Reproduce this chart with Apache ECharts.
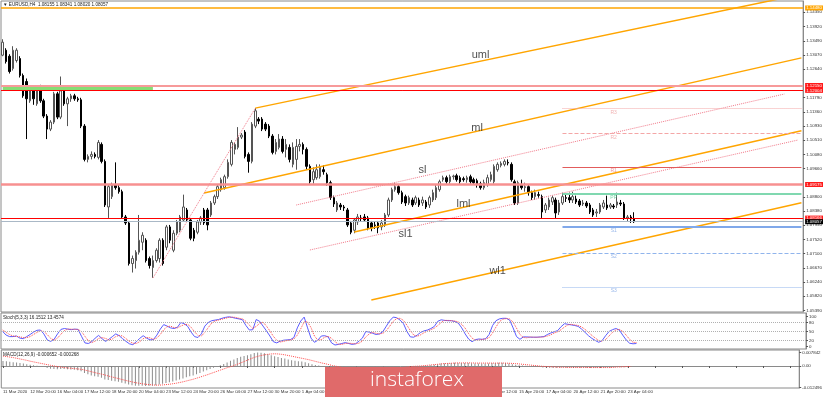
<!DOCTYPE html>
<html>
<head>
<meta charset="utf-8">
<title>EURUSD H4</title>
<script src="https://cdn.jsdelivr.net/npm/echarts@6/dist/echarts.min.js"></script>
<style>html,body{margin:0;padding:0;background:#fff;}</style>
</head>
<body>
<div id="main" style="width:825px;height:397px;"></div>
<script>
// H4 candles, 11 Mar 12:00 .. 23 Apr 08:00 : [open, close, low, high]
var candles = [
[1.1306,1.1345,1.1303,1.1354],[1.1321,1.1287,1.1281,1.1327],[1.1303,1.1257,1.1251,1.1309],[1.1266,1.1321,1.1260,1.1333],
[1.1290,1.1321,1.1284,1.1327],[1.1296,1.1245,1.1239,1.1303],[1.1245,1.1184,1.1178,1.1251],[1.1227,1.1175,1.1054,1.1236],
[1.1169,1.1205,1.1163,1.1211],[1.1205,1.1175,1.1157,1.1211],[1.1160,1.1205,1.1154,1.1214],[1.1211,1.1169,1.1163,1.1217],
[1.1169,1.1123,1.1117,1.1175],[1.1123,1.1084,1.1054,1.1129],[1.1084,1.1105,1.1078,1.1111],[1.1105,1.1190,1.1099,1.1196],
[1.1190,1.1120,1.1114,1.1196],[1.1120,1.1199,1.1114,1.1242],[1.1199,1.1160,1.1154,1.1205],[1.1160,1.1175,1.1093,1.1181],
[1.1175,1.1184,1.1166,1.1190],[1.1184,1.1175,1.1169,1.1190],[1.1175,1.1172,1.1166,1.1181],[1.1172,1.1093,1.1087,1.1178],
[1.1093,1.0993,1.0987,1.1099],[1.0993,1.1002,1.0984,1.1008],[1.1002,1.1008,1.0993,1.1017],[1.1008,1.1002,1.0996,1.1014],
[1.0999,1.1044,1.0993,1.1051],[1.1038,1.0987,1.0981,1.1044],[1.0987,1.0856,1.0850,1.0993],[1.0850,1.0911,1.0817,1.0917],
[1.0881,1.0917,1.0874,1.0923],[1.0917,1.0908,1.0902,1.0984],[1.0908,1.0896,1.0890,1.0917],[1.0896,1.0820,1.0814,1.0902],
[1.0820,1.0802,1.0796,1.0826],[1.0802,1.0680,1.0674,1.0808],[1.0680,1.0695,1.0653,1.0704],[1.0689,1.0714,1.0665,1.0720],
[1.0714,1.0750,1.0707,1.0826],[1.0744,1.0765,1.0720,1.0774],[1.0750,1.0689,1.0683,1.0756],[1.0695,1.0674,1.0665,1.0701],
[1.0668,1.0689,1.0637,1.0704],[1.0689,1.0720,1.0683,1.0726],[1.0695,1.0750,1.0683,1.0756],[1.0750,1.0680,1.0674,1.0756],
[1.0729,1.0790,1.0720,1.0796],[1.0790,1.0750,1.0741,1.0796],[1.0720,1.0771,1.0714,1.0780],[1.0771,1.0805,1.0765,1.0811],
[1.0780,1.0820,1.0774,1.0826],[1.0811,1.0850,1.0805,1.0887],[1.0841,1.0811,1.0805,1.0847],[1.0811,1.0756,1.0750,1.0817],
[1.0780,1.0756,1.0747,1.0787],[1.0774,1.0805,1.0768,1.0811],[1.0805,1.0817,1.0796,1.0823],[1.0841,1.0802,1.0796,1.0847],
[1.0841,1.0796,1.0780,1.0847],[1.0826,1.0862,1.0820,1.0868],[1.0862,1.0881,1.0856,1.0887],[1.0881,1.0911,1.0874,1.0917],
[1.0902,1.0932,1.0896,1.0938],[1.0908,1.0941,1.0902,1.0947],[1.0941,1.0984,1.0935,1.0993],[1.0978,1.1044,1.0972,1.1051],
[1.1023,1.1038,1.1008,1.1044],[1.1029,1.1060,1.1023,1.1090],[1.1060,1.1066,1.1054,1.1072],[1.1075,1.1002,1.0996,1.1081],
[1.1008,1.0987,1.0953,1.1014],[1.0987,1.1099,1.0981,1.1105],[1.1093,1.1139,1.1087,1.1147],[1.1114,1.1108,1.1099,1.1120],
[1.1114,1.1084,1.1078,1.1120],[1.1099,1.1084,1.1078,1.1105],[1.1093,1.1063,1.1057,1.1099],[1.1063,1.1014,1.1008,1.1069],
[1.1017,1.1044,1.1008,1.1054],[1.1029,1.1054,1.1023,1.1069],[1.1054,1.1017,1.1011,1.1063],[1.1023,1.1038,1.0999,1.1054],
[1.1029,1.0993,1.0984,1.1038],[1.0978,1.1029,1.0969,1.1044],[1.0993,1.1032,1.0962,1.1054],[1.1032,1.1038,1.1017,1.1054],
[1.1038,1.1023,1.1008,1.1044],[1.1023,1.0972,1.0962,1.1029],[1.0972,1.0926,1.0920,1.0978],[1.0932,1.0956,1.0920,1.0969],
[1.0938,1.0962,1.0932,1.0978],[1.0941,1.0969,1.0935,1.0978],[1.0962,1.0956,1.0947,1.0975],[1.0947,1.0923,1.0914,1.0953],
[1.0923,1.0878,1.0871,1.0929],[1.0878,1.0859,1.0850,1.0884],[1.0841,1.0862,1.0835,1.0868],[1.0856,1.0850,1.0841,1.0862],
[1.0850,1.0847,1.0838,1.0856],[1.0841,1.0796,1.0790,1.0847],[1.0802,1.0774,1.0768,1.0808],[1.0780,1.0811,1.0771,1.0817],
[1.0805,1.0820,1.0796,1.0829],[1.0817,1.0815,1.0805,1.0826],[1.0820,1.0811,1.0805,1.0829],[1.0817,1.0787,1.0780,1.0823],
[1.0802,1.0787,1.0777,1.0808],[1.0796,1.0794,1.0784,1.0805],[1.0802,1.0787,1.0771,1.0808],[1.0790,1.0802,1.0780,1.0811],
[1.0796,1.0826,1.0790,1.0832],[1.0826,1.0871,1.0820,1.0878],[1.0871,1.0902,1.0865,1.0908],[1.0902,1.0911,1.0896,1.0923],
[1.0911,1.0893,1.0887,1.0917],[1.0893,1.0865,1.0859,1.0899],[1.0881,1.0862,1.0853,1.0887],[1.0862,1.0878,1.0856,1.0884],
[1.0871,1.0856,1.0850,1.0878],[1.0862,1.0878,1.0856,1.0884],[1.0871,1.0856,1.0850,1.0878],[1.0862,1.0871,1.0853,1.0881],
[1.0865,1.0850,1.0844,1.0871],[1.0856,1.0878,1.0847,1.0884],[1.0871,1.0893,1.0865,1.0902],[1.0878,1.0908,1.0871,1.0917],
[1.0902,1.0926,1.0896,1.0932],[1.0932,1.0938,1.0926,1.0944],[1.0938,1.0926,1.0920,1.0944],[1.0926,1.0941,1.0920,1.0947],
[1.0941,1.0943,1.0932,1.0947],[1.0944,1.0932,1.0926,1.0950],[1.0938,1.0926,1.0920,1.0944],[1.0935,1.0932,1.0926,1.0941],
[1.0932,1.0938,1.0923,1.0944],[1.0941,1.0926,1.0920,1.0947],[1.0932,1.0923,1.0917,1.0938],[1.0929,1.0917,1.0908,1.0935],
[1.0920,1.0908,1.0902,1.0926],[1.0908,1.0923,1.0902,1.0932],[1.0917,1.0938,1.0911,1.0947],[1.0932,1.0947,1.0926,1.0956],
[1.0926,1.0972,1.0920,1.0978],[1.0962,1.0978,1.0956,1.0984],[1.0975,1.0981,1.0969,1.0987],[1.0978,1.0987,1.0972,1.0993],
[1.0984,1.0982,1.0975,1.0993],[1.0978,1.0932,1.0926,1.0984],[1.0926,1.0862,1.0856,1.0932],[1.0862,1.0923,1.0856,1.0929],
[1.0917,1.0908,1.0902,1.0932],[1.0908,1.0911,1.0896,1.0923],[1.0911,1.0893,1.0884,1.0917],[1.0893,1.0878,1.0871,1.0899],
[1.0881,1.0893,1.0871,1.0902],[1.0887,1.0885,1.0878,1.0896],[1.0881,1.0835,1.0817,1.0887],[1.0841,1.0856,1.0832,1.0862],
[1.0850,1.0871,1.0841,1.0878],[1.0865,1.0878,1.0856,1.0884],[1.0871,1.0832,1.0817,1.0878],[1.0835,1.0862,1.0826,1.0871],
[1.0862,1.0881,1.0856,1.0893],[1.0878,1.0876,1.0865,1.0890],[1.0878,1.0871,1.0862,1.0893],[1.0871,1.0881,1.0862,1.0896],
[1.0874,1.0865,1.0859,1.0884],[1.0868,1.0856,1.0850,1.0874],[1.0859,1.0862,1.0853,1.0871],[1.0862,1.0853,1.0847,1.0868],
[1.0856,1.0835,1.0829,1.0862],[1.0841,1.0826,1.0820,1.0847],[1.0832,1.0835,1.0820,1.0844],[1.0835,1.0856,1.0829,1.0862],
[1.0850,1.0862,1.0844,1.0871],[1.0856,1.0847,1.0841,1.0884],[1.0850,1.0856,1.0844,1.0862],[1.0853,1.0850,1.0844,1.0859],
[1.0856,1.0865,1.0847,1.0893],[1.0862,1.0859,1.0853,1.0871],[1.0859,1.0817,1.0811,1.0865],[1.0817,1.0820,1.0805,1.0826],
[1.0820,1.0814,1.0802,1.0826],[1.08155,1.08057,1.08020,1.08341]
];

// Stochastic (5,3,3): main and signal
var stochK = [50,38,33,33,35,28,26,33,40,48,54,55,42,22,17,24,42,57,60,58,56,58,57,34,12,10,16,28,37,26,
17,24,33,42,36,26,17,9,6,16,27,36,28,22,23,38,58,73,68,62,60,64,80,76,67,48,33,30,42,68,
80,86,88,90,94,97,99,97,94,92,89,70,55,56,90,84,68,52,35,16,12,18,21,22,23,30,62,85,98,62,
28,14,21,35,36,32,12,5,7,10,13,10,7,9,18,28,50,48,44,40,42,50,68,86,98,96,88,76,50,32,
31,38,47,52,55,60,67,84,89,87,86,86,83,78,62,42,25,16,23,25,24,26,40,70,86,92,94,94,88,62,
33,24,32,32,31,31,31,32,33,40,45,49,53,66,76,74,72,70,67,58,47,36,27,20,14,20,36,50,56,60,
55,38,22,11,9,10];
var stochD = [55,47,40,35,34,32,30,29,33,40,47,52,50,40,27,21,28,41,53,58,58,57,57,50,34,19,13,18,27,30,
27,22,25,33,37,35,26,17,11,10,16,26,30,29,24,28,40,56,66,68,63,62,68,73,74,64,49,37,35,47,
63,78,85,88,91,94,97,98,97,94,92,84,71,60,67,77,81,68,52,34,21,15,17,20,22,25,38,59,82,82,
63,35,21,23,31,34,27,16,8,7,10,11,10,9,11,18,32,42,47,44,42,44,53,68,84,93,94,87,71,53,
38,34,39,46,51,56,61,70,80,87,87,86,85,82,74,61,43,28,21,21,24,25,30,45,65,83,91,93,92,81,
61,40,30,29,32,31,31,31,32,35,39,45,49,56,65,72,74,72,70,65,57,47,37,28,20,18,23,35,47,55,
57,51,38,24,14,13];

// MACD (12,26,9): histogram and signal
var macdMain = [0.0029,0.0027,0.0025,0.0022,0.0020,0.0017,0.0014,0.0010,0.0007,0.0004,0.0001,-0.0002,-0.0006,-0.0012,-0.0016,
-0.0017,-0.0019,-0.0018,-0.0018,-0.0019,-0.0020,-0.0022,-0.0024,-0.0030,-0.0040,-0.0048,-0.0055,-0.0060,-0.0062,-0.0068,
-0.0078,-0.0082,-0.0085,-0.0088,-0.0092,-0.0098,-0.0102,-0.0108,-0.0112,-0.0114,-0.0115,-0.0114,-0.0116,-0.0116,-0.0115,
-0.0112,-0.0108,-0.0103,-0.0099,-0.0095,-0.0090,-0.0084,-0.0078,-0.0072,-0.0066,-0.0060,-0.0055,-0.0048,-0.0040,-0.0032,
-0.0025,-0.0018,-0.0010,-0.0003,0.0005,0.0012,0.0020,0.0030,0.0038,0.0046,0.0054,0.0058,0.0062,0.0068,0.0076,
0.0078,0.0077,0.0074,0.0070,0.0063,0.0057,0.0052,0.0047,0.0043,0.0038,0.0033,0.0030,0.0028,0.0026,0.0022,
0.0016,0.0010,0.0006,0.0003,0.0000,-0.0004,-0.0010,-0.0015,-0.0019,-0.0022,-0.0025,-0.0030,-0.0034,-0.0036,-0.0036,
-0.0035,-0.0032,-0.0030,-0.0028,-0.0027,-0.0026,-0.0023,-0.0019,-0.0014,-0.0009,-0.0005,-0.0003,-0.0001,-0.0001,-0.0002,
-0.0002,-0.0002,-0.0001,0.0000,0.0000,0.0002,0.0004,0.0008,0.0011,0.0014,0.0015,0.0017,0.0018,0.0019,0.0018,
0.0018,0.0017,0.0017,0.0016,0.0015,0.0014,0.0014,0.0014,0.0015,0.0017,0.0018,0.0019,0.0019,0.0018,0.0015,
0.0010,0.0007,0.0005,0.0003,0.0001,-0.0001,-0.0003,-0.0004,-0.0006,-0.0008,-0.0009,-0.0010,-0.0011,-0.0010,-0.0010,
-0.0009,-0.0009,-0.0009,-0.0009,-0.0009,-0.0010,-0.0010,-0.0011,-0.0012,-0.0012,-0.0011,-0.0010,-0.0009,-0.0009,-0.0008,
-0.0007,-0.0006,-0.0007,-0.0007,-0.0007,-0.00065];
var macdSignal = [0.0058,0.0055,0.0052,0.0049,0.0045,0.0041,0.0037,0.0033,0.0028,0.0024,0.0020,0.0016,0.0012,0.0008,0.0004,
0.0000,-0.0003,-0.0006,-0.0009,-0.0011,-0.0013,-0.0015,-0.0017,-0.0019,-0.0023,-0.0028,-0.0033,-0.0038,-0.0043,-0.0047,
-0.0052,-0.0058,-0.0063,-0.0068,-0.0073,-0.0078,-0.0083,-0.0088,-0.0092,-0.0097,-0.0100,-0.0103,-0.0106,-0.0108,-0.0110,
-0.0111,-0.0111,-0.0110,-0.0108,-0.0106,-0.0103,-0.0100,-0.0096,-0.0092,-0.0087,-0.0082,-0.0077,-0.0071,-0.0065,-0.0058,
-0.0052,-0.0045,-0.0038,-0.0031,-0.0024,-0.0017,-0.0010,-0.0004,0.0002,0.0010,0.0018,0.0026,0.0034,0.0042,0.0050,
0.0056,0.0061,0.0065,0.0068,0.0070,0.0071,0.0070,0.0068,0.0065,0.0061,0.0057,0.0053,0.0049,0.0045,0.0041,
0.0037,0.0032,0.0027,0.0022,0.0017,0.0013,0.0008,0.0003,-0.0001,-0.0005,-0.0009,-0.0013,-0.0017,-0.0020,-0.0023,
-0.0025,-0.0027,-0.0028,-0.0028,-0.0028,-0.0027,-0.0026,-0.0024,-0.0022,-0.0019,-0.0016,-0.0013,-0.0010,-0.0008,-0.0006,
-0.0004,-0.0002,-0.0001,0.0000,0.0002,0.0004,0.0006,0.0008,0.0010,0.0012,0.0014,0.0015,0.0016,0.0017,0.0018,
0.0018,0.0018,0.0018,0.0018,0.0017,0.0017,0.0017,0.0017,0.0017,0.0017,0.0017,0.0017,0.0017,0.0017,0.0016,
0.0015,0.0014,0.0012,0.0010,0.0008,0.0006,0.0004,0.0002,0.0000,-0.0002,-0.0003,-0.0004,-0.0005,-0.0006,-0.0007,
-0.0007,-0.0008,-0.0008,-0.0008,-0.0008,-0.0008,-0.0008,-0.0008,-0.0009,-0.0009,-0.0009,-0.0009,-0.0009,-0.0009,-0.0009,
-0.0007,-0.0006,-0.0005,-0.0004,-0.0003,-0.00027];

// time axis labels, one every 8 bars
var timeLabels = ['11 Mar 2020','12 Mar 20:00','16 Mar 04:00','17 Mar 12:00','18 Mar 20:00','20 Mar 04:00',
  '23 Mar 12:00','24 Mar 20:00','26 Mar 04:00','27 Mar 12:00','30 Mar 20:00','1 Apr 04:00','2 Apr 12:00',
  '3 Apr 20:00','7 Apr 04:00','8 Apr 12:00','9 Apr 20:00','13 Apr 04:00','14 Apr 12:00','15 Apr 20:00',
  '17 Apr 04:00','20 Apr 12:00','21 Apr 20:00','23 Apr 04:00'];

// right scale tick labels
var priceTicks = [1.14350,1.13920,1.13490,1.13070,1.12640,1.11790,1.11360,1.10930,1.10510,1.10080,1.09660,
  1.08800,1.08380,1.07950,1.07520,1.07100,1.06670,1.06240,1.05820,1.05390];
var stochTicks = [0,20,50,80,100];
var macdTicks = [-0.012496,0,0.007842];

// horizontal levels with price boxes
var levelValues = [1.14480,1.12150,1.12004,1.09175,1.08166,1.08057];
var greenZone = [0,44,1.12067];

// daily pivots, drawn from bar 164
var pivotNames = ['R3','R2','R1','PP','S1','S2','S3'];
var pivotValues = [1.1147,1.1071,1.0970,1.0889,1.0790,1.0712,1.0610];
var pivotStart = 164;

// pitchfork lines: [fromBar, fromPrice, toBar, toPrice]
var forkNames = ['uml','ml','lml','wl1'];
var forkLines = [[74,1.1147,234,1.14891],[59,1.0892,234,1.1298],[103,1.07748,234,1.1079],[108,1.05704,234,1.08627]];
var sideNames = ['sl','sl1','handle'];
var sideLines = [[86,1.08559,229,1.11894],[90,1.07207,233,1.10512],[44,1.06365,74,1.1147]];
// text tags of the fork lines: [bar, price]
var forkTags = [[140,1.13066],[139,1.10873],[123,1.09611],[135,1.08589],[118,1.07688],[145,1.06576]];
var forkTagNames = ['uml','ml','sl','lml','sl1','wl1'];

var N = 235;
var cats = [];
for (var i = 0; i < N; i++) cats.push('b' + i);

var FONT = 'Liberation Sans';
var small = {fontSize: 4.4, color: '#333', fontFamily: FONT};

var chart = echarts.init(document.getElementById('main'));

var boxColors = ['#ffa500','#ff1a1a','#ff1a1a','#ff1a1a','#ff1a1a','#000000'];
var lineStyles = [
  {color:'#ffa500', width:1.5},
  {color:'#f79a9a', width:2},
  {color:'#ff0000', width:1},
  {color:'#f79090', width:2.5},
  {color:'#ff0000', width:1.2},
  {color:'#aab8c6', width:1}
];
var levelMarks = levelValues.map(function (v, k) {
  return {
    yAxis: v,
    lineStyle: Object.assign({type:'solid'}, lineStyles[k]),
    label: {show:true, position:'end', distance:2, formatter: v.toFixed(5),
      backgroundColor: boxColors[k], color:'#fff', fontSize:4.4, fontFamily:FONT, padding:[1,1,0,1]}
  };
});
levelMarks.push([
  {coord:[greenZone[0], greenZone[2]], lineStyle:{color:'#86dc74', width:3, type:'solid'}, label:{show:false}},
  {coord:[greenZone[1], greenZone[2]]}
]);
var pivotStyles = [
  {color:'#f4a6a6', type:'dotted', width:1},
  {color:'#f4a6a6', type:'dashed', width:1},
  {color:'#e25c5c', type:'solid', width:1},
  {color:'#80d8b0', type:'solid', width:2},
  {color:'#80a8ea', type:'solid', width:2},
  {color:'#90b4ec', type:'dashed', width:1},
  {color:'#90b4ec', type:'dotted', width:1}
];
var pivotTextColors = ['#eea0a0','#eea0a0','#e88080','#50c890','#7fa6e6','#7fa6e6','#7fa6e6'];
pivotValues.forEach(function (v, k) {
  levelMarks.push([
    {coord:[pivotStart, v], lineStyle:pivotStyles[k], label:{show:false}},
    {coord:[N - 1, v]}
  ]);
});

var series = [{
  type:'candlestick', xAxisIndex:0, yAxisIndex:0, data:candles, barWidth:2,
  itemStyle:{color:'#ffffff', color0:'#000000', borderColor:'#555555', borderColor0:'#000000', borderWidth:1},
  markLine:{silent:true, symbol:['none','none'], precision:6, animation:false, data:levelMarks},
  z:3
}];

forkLines.forEach(function (f, k) {
  series.push({type:'line', name:forkNames[k], xAxisIndex:0, yAxisIndex:0, symbol:'none', clip:true,
    lineStyle:{color:'#ffa500', width:1.5}, data:[[f[0], f[1]], [f[2], f[3]]], z:4});
});
sideLines.forEach(function (f, k) {
  series.push({type:'line', name:sideNames[k], xAxisIndex:0, yAxisIndex:0, symbol:'none', clip:true,
    lineStyle:{color:'#f27a8a', width:1, type:'dotted'}, data:[[f[0], f[1]], [f[2], f[3]]], z:4});
});
series.push({type:'scatter', xAxisIndex:0, yAxisIndex:0, symbolSize:0, silent:true,
  data: forkTags.map(function (t, k) { return {name:forkTagNames[k], value:t}; }),
  label:{show:true, position:'inside', formatter:'{b}', fontSize:11, color:'#222', fontFamily:FONT}, z:5});
series.push({type:'scatter', xAxisIndex:0, yAxisIndex:0, symbolSize:0, silent:true,
  data: pivotNames.map(function (n, k) {
    return {name:n, value:[179, pivotValues[k]], label:{color:pivotTextColors[k]}};
  }),
  label:{show:true, position:'inside', offset:[0,4], formatter:'{b}', fontSize:5, fontFamily:FONT}, z:5});

// stochastic
series.push({type:'line', xAxisIndex:1, yAxisIndex:1, data:stochK, symbol:'none',
  lineStyle:{color:'#5b5bff', width:1},
  markLine:{silent:true, symbol:['none','none'], label:{show:false},
    lineStyle:{color:'#b0b0b0', type:'dotted', width:1},
    data:[{yAxis:20},{yAxis:50},{yAxis:80}]}});
series.push({type:'line', xAxisIndex:1, yAxisIndex:1, data:stochD, symbol:'none',
  lineStyle:{color:'#ff4a4a', width:1, type:'dotted'}});

// MACD
series.push({type:'bar', xAxisIndex:2, yAxisIndex:2, data:macdMain, barWidth:1,
  itemStyle:{color:'#8c8c8c'}});
series.push({type:'line', xAxisIndex:2, yAxisIndex:2, data:macdSignal, symbol:'none',
  lineStyle:{color:'#ff4a4a', width:1, type:'dotted'}});

var gridBase = {left:1, right:19, show:true, borderColor:'#8a8a8a', borderWidth:1, backgroundColor:'#fff'};

var option = {
  animation:false,
  backgroundColor:'#ffffff',
  grid:[
    Object.assign({top:1, height:311}, gridBase),
    Object.assign({top:313, height:36}, gridBase),
    Object.assign({top:350, height:38}, gridBase)
  ],
  xAxis:[
    {type:'category', gridIndex:0, data:cats, show:false},
    {type:'category', gridIndex:1, data:cats, show:false},
    {type:'category', gridIndex:2, data:cats,
      axisLine:{show:true, lineStyle:{color:'#8a8a8a'}},
      axisTick:{show:true, interval:7, length:2, alignWithLabel:true, lineStyle:{color:'#555'}},
      axisLabel:Object.assign({interval:7, align:'left', margin:2, showMinLabel:true, hideOverlap:false,
        formatter:function (v, idx) { return timeLabels[idx / 8] || ''; }}, small)}
  ],
  yAxis:[
    {type:'value', gridIndex:0, position:'right', min:1.05344, max:1.14689,
      splitLine:{show:false},
      axisLine:{show:true, lineStyle:{color:'#8a8a8a'}},
      axisTick:{show:true, length:2, customValues:priceTicks, lineStyle:{color:'#555'}},
      axisLabel:Object.assign({customValues:priceTicks, margin:3,
        formatter:function (v) { return v.toFixed(5); }}, small)},
    {type:'value', gridIndex:1, position:'right', min:-8.33, max:111.67,
      splitLine:{show:false},
      axisLine:{show:true, lineStyle:{color:'#8a8a8a'}},
      axisTick:{show:true, length:2, customValues:stochTicks, lineStyle:{color:'#555'}},
      axisLabel:Object.assign({customValues:stochTicks, margin:3,
        formatter:function (v) { return String(Math.round(v)); }}, small)},
    {type:'value', gridIndex:2, position:'right', min:-0.01278, max:0.0093,
      splitLine:{show:false},
      axisLine:{show:true, lineStyle:{color:'#8a8a8a'}},
      axisTick:{show:true, length:2, customValues:macdTicks, lineStyle:{color:'#555'}},
      axisLabel:Object.assign({customValues:macdTicks, margin:3,
        formatter:function (v) { return v === 0 ? '0.00' : v.toFixed(6); }}, small)}
  ],
  graphic:[
    {type:'text', left:3, top:2, z:10, style:{text:'\u25BC EURUSD,H4  1.08155 1.08341 1.08020 1.08057',
      fill:'#222', font:'4.6px "Liberation Sans"'}},
    {type:'text', left:3, top:315, z:10, style:{text:'Stoch(5,3,3) 16.1512 13.4574',
      fill:'#222', font:'4.6px "Liberation Sans"'}},
    {type:'text', left:3, top:352, z:10, style:{text:'MACD(12,26,9) -0.000652 -0.000268',
      fill:'#222', font:'4.6px "Liberation Sans"'}},
    {type:'rect', left:325, top:367, z:20, shape:{width:177, height:30}, style:{fill:'#e06a6a'}},
    {type:'text', left:370, top:370, z:21, style:{text:'instaforex', fill:'#ffffff',
      font:'300 21px "Open Sans"'}}
  ],
  series:series
};

chart.setOption(option);
</script>
</body>
</html>
